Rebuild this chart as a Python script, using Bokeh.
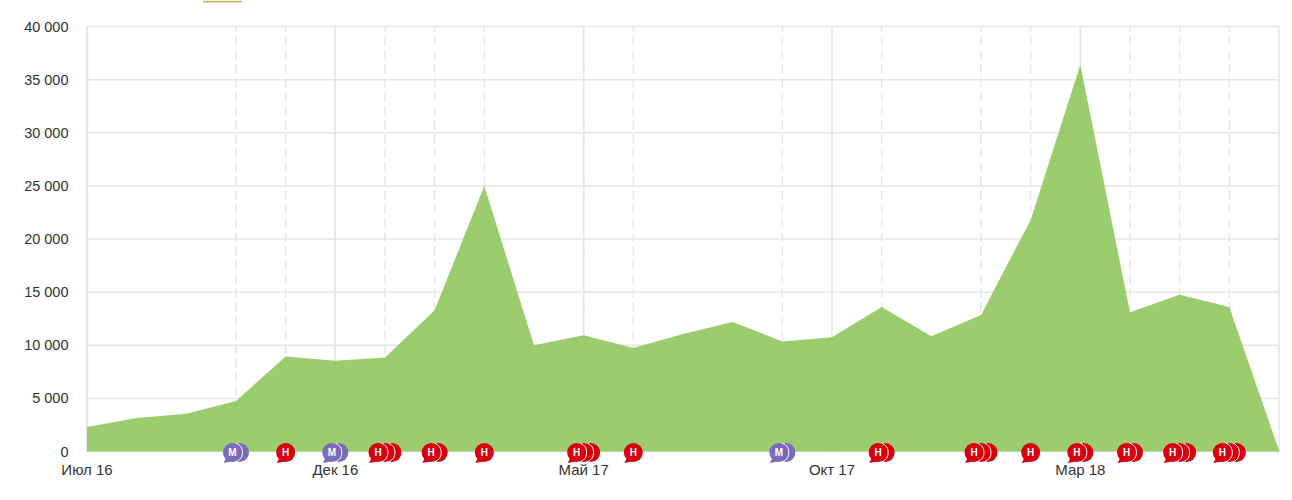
import numpy as np

from bokeh.core.properties import value
from bokeh.embed import file_html
from bokeh.models import FixedTicker, Range1d
from bokeh.plotting import figure
from bokeh.resources import INLINE

values = [2300, 3150, 3550, 4750, 8950, 8550, 8850, 13300, 25000, 10000, 10950, 9750, 11050,
          12200, 10350, 10750, 13600, 10850, 12850, 21800, 36400, 13100, 14750, 13600, 100]
month_idx = [0, 5, 10, 15, 20]
month_labels = ['Июл 16', 'Дек 16', 'Май 17', 'Окт 17', 'Мар 18']
y_ticks = [0, 5000, 10000, 15000, 20000, 25000, 30000, 35000, 40000]
y_labels = ['0', '5 000', '10 000', '15 000', '20 000', '25 000', '30 000', '35 000', '40 000']

# events along the time axis: month index, how many are stacked, letter
flag_idx = [3, 4, 5, 6, 7, 8, 10, 11, 14, 16, 18, 19, 20, 21, 22, 23]
flag_count = [2, 1, 2, 3, 2, 1, 3, 1, 2, 2, 3, 1, 2, 2, 3, 3]
flag_letter = ['М', 'Н', 'М', 'Н', 'Н', 'Н', 'Н', 'Н', 'М', 'Н', 'Н', 'Н', 'Н', 'Н', 'Н', 'Н']

PLOT_W = 1192
PLOT_H = 425
# glyphs get clipped to the frame, so the frame is padded and the ranges are widened to match
PAD_L = 1.5
PAD_R = 2.5
PAD_T = 26
PAD_B = 12
GRID = '#e6e6e6'
TEXT = '#333333'
RED = '#d7000f'
PURPLE = '#7c6bbd'
FONT = 'Liberation Sans'

x = np.arange(len(values))
x_max = len(values) - 1
y_max = y_ticks[-1]
# size of one screen pixel in data units, for the flag offsets
px_x = x_max / PLOT_W
px_y = y_max / PLOT_H

p = figure(width=1284, height=492, output_backend='svg', toolbar_location=None,
           x_range=Range1d(-PAD_L * px_x, x_max + PAD_R * px_x),
           y_range=Range1d(-PAD_B * px_y, y_max + PAD_T * px_y),
           min_border_left=85, min_border_right=3, min_border_top=0, min_border_bottom=29)
p.frame_width = PLOT_W + 4
p.frame_height = PLOT_H + PAD_T + PAD_B
p.outline_line_color = None

p.xaxis.ticker = FixedTicker(ticks=month_idx)
p.xaxis.major_label_overrides = dict(zip(month_idx, month_labels))
p.yaxis.ticker = FixedTicker(ticks=y_ticks)
p.yaxis.major_label_overrides = dict(zip(y_ticks, y_labels))
for ax in (p.xaxis, p.yaxis):
    ax.axis_line_color = None
    ax.major_tick_line_color = None
    ax.minor_tick_line_color = None
    ax.major_label_text_font = FONT
    ax.major_label_text_color = TEXT
p.xaxis.major_label_text_font_size = '15px'
p.yaxis.major_label_text_font_size = '14.5px'
p.xaxis.major_label_standoff = -9
p.yaxis.major_label_standoff = 11

# grid drawn by hand so it stops at the plot edges, not the padded frame
p.grid.visible = False
p.segment(x0=[0] * len(y_ticks), y0=y_ticks, x1=[x_max] * len(y_ticks), y1=y_ticks,
          line_color=GRID, line_width=1.5, level='underlay')
p.segment(x0=month_idx, y0=[0] * len(month_idx), x1=month_idx, y1=[y_max] * len(month_idx),
          line_color=GRID, line_width=1.5, level='underlay')

# left edge is a bit heavier, right edge like the grid
p.segment(x0=[0], y0=[0], x1=[0], y1=[y_max], line_color=GRID, line_width=2.5, level='underlay')
p.segment(x0=[x_max], y0=[0], x1=[x_max], y1=[y_max], line_color=GRID, line_width=1.5, level='underlay')

# dashed event lines
p.segment(x0=flag_idx, y0=[0] * len(flag_idx), x1=flag_idx, y1=[y_max] * len(flag_idx),
          line_color=GRID, line_width=1.5, line_dash='9 5', level='underlay')

p.varea(x=x, y1=0, y2=values, fill_color='#90c75d', fill_alpha=0.9)

R = 9.5
for idx, n, letter in zip(flag_idx, flag_count, flag_letter):
    color = PURPLE if letter == 'М' else RED
    # stack is centred on the month, front flag on the left
    offsets = [7 * (k - (n - 1) / 2) for k in range(n)]
    cy = -1 * px_y
    for k in reversed(range(n)):
        cx = idx + offsets[k] * px_x
        p.circle([cx], [cy], radius=R, radius_units='screen', fill_color=color, line_color=None)
        if k < n - 1:
            p.arc([cx], [cy], radius=R + 0.5, radius_units='screen', start_angle=-1.2, end_angle=1.2,
                  line_color='white', line_width=1)
    fx = idx + offsets[0] * px_x
    p.patch([fx - 9 * px_x, fx - 6 * px_x, fx - 1 * px_x],
            [cy - 10.5 * px_y, cy - 5 * px_y, cy - 9 * px_y],
            fill_color=color, line_color=None)
    p.text([fx], [cy], text=[letter], text_color='white', text_font=value(FONT),
           text_font_style='bold', text_font_size='10px', text_align='center', text_baseline='middle')

# bottom of the legend swatch that is cut off at the top of the picture
p.quad(left=[(203 - 87) * px_x], right=[(242 - 87) * px_x], top=[y_max + PAD_T * px_y],
       bottom=[y_max + (PAD_T - 2) * px_y], fill_color='#cdb768', line_color=None)

open('out.html', 'w').write(file_html(p, INLINE))
